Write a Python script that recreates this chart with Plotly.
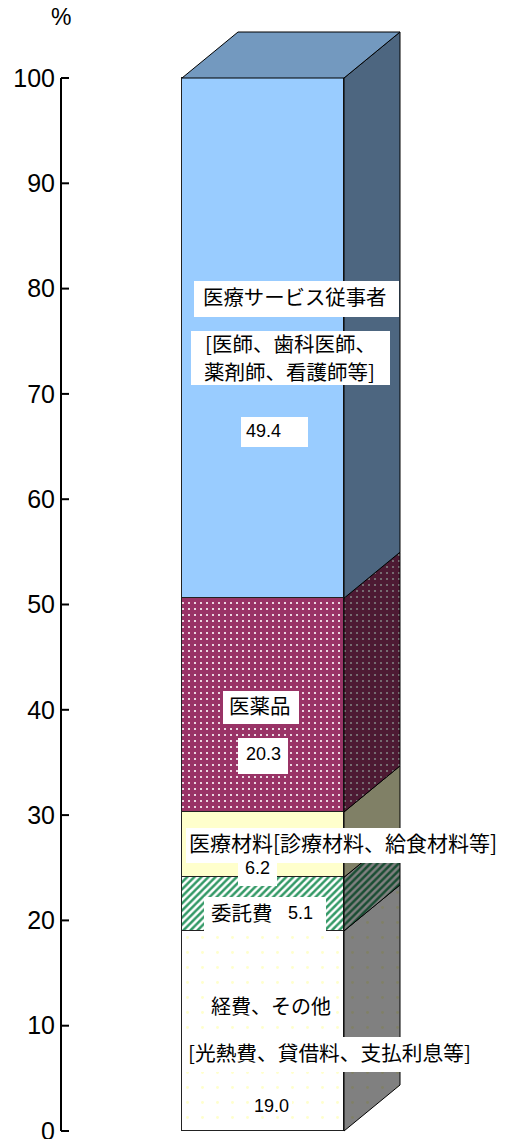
import plotly.graph_objects as go

# --- data (bottom to top) ---
names = ["経費、その他", "委託費", "医療材料", "医薬品", "医療サービス従事者"]
values = [19.0, 5.1, 6.2, 20.3, 49.4]
tick_values = [0, 10, 20, 30, 40, 50, 60, 70, 80, 90, 100]
tick_labels = ["0", "10", "20", "30", "40", "50", "60", "70", "80", "90", "100"]

# --- styles ---
front_colors = ["#FFFFFF", "#339966", "#FFFFCC", "#993366", "#99CCFF"]
side_colors = ["#808080", "#1A4D33", "#808066", "#4D1A33", "#4D6680"]
dot_colors = ["#FFFFCC", "#FFFFFF", None, "#FFFFFF", None]
dot_side = ["#808066", "#808080", None, "#808080", None]
shapes = [".", "/", "", ".", ""]
sizes = [15, 5, 8, 6, 8]
solid = [0.03, 0.5, 0.3, 0.1, 0.3]
top_color = "#7399BF"

W, H = 505, 1139
Y0, PX_PER_UNIT = 1131, 10.53
AXIS_X, TICK_LEN = 61, 8
BAR_L, BAR_R = 182, 344
DEPTH_X, DEPTH_Y = 56, 46 / PX_PER_UNIT


def pat(shape, bg, fg, size, sol):
    if not shape:
        return dict(shape="")
    return dict(shape=shape, bgcolor=bg, fgcolor=fg, fillmode="replace", size=size, solidity=sol)


fig = go.Figure()
fig.add_trace(go.Scatter(x=[AXIS_X], y=[0], yaxis="y", mode="markers", marker=dict(opacity=0),
                         hoverinfo="skip", showlegend=False))

# tick marks, pointing right of the axis
tx, ty = [], []
for t in tick_values:
    tx += [AXIS_X, AXIS_X + TICK_LEN, None]
    ty += [t, t, None]
fig.add_trace(go.Scatter(x=tx, y=ty, yaxis="y2", mode="lines", line=dict(color="#000000", width=2),
                         hoverinfo="skip", showlegend=False))

base = 0
for i, (n, v) in enumerate(zip(names, values)):
    xs = [BAR_R, BAR_R + DEPTH_X, BAR_R + DEPTH_X, BAR_R, BAR_R]
    ys = [base, base + DEPTH_Y, base + v + DEPTH_Y, base + v, base]
    kw = {}
    if shapes[i]:
        kw["fillpattern"] = pat(shapes[i], side_colors[i], dot_side[i], sizes[i], solid[i])
    fig.add_trace(go.Scatter(x=xs, y=ys, yaxis="y2", mode="lines", fill="toself",
                             fillcolor=side_colors[i], line=dict(color="#000000", width=1),
                             hoverinfo="skip", showlegend=False, **kw))
    base += v

for i, (n, v) in enumerate(zip(names, values)):
    fig.add_trace(go.Bar(x=[(BAR_L + BAR_R) / 2], y=[v], width=[BAR_R - BAR_L], yaxis="y2", name=n,
                         marker=dict(color=front_colors[i], line=dict(color="#222222", width=1),
                                     pattern=pat(shapes[i], front_colors[i], dot_colors[i], sizes[i], solid[i])),
                         hoverinfo="skip", showlegend=False))

total = sum(values)
fig.add_trace(go.Scatter(
    x=[BAR_L, BAR_L + DEPTH_X, BAR_R + DEPTH_X, BAR_R, BAR_L],
    y=[total, total + DEPTH_Y, total + DEPTH_Y, total, total],
    yaxis="y2", mode="lines", fill="toself", fillcolor=top_color,
    line=dict(color="#000000", width=1), hoverinfo="skip", showlegend=False))

CJK = "'Noto Sans CJK JP'"
NUM = "'Liberation Sans'"
# white plates behind the labels: left, top, right, bottom
plates = [
    (194, 281, 399, 317), (191, 331, 390, 385), (241, 417, 308, 447),
    (223, 691, 299, 724), (238, 738, 288, 774), (186, 828, 500, 863),
    (238, 863, 277, 886), (204, 897, 326, 931), (205, 990, 335, 1023),
    (185, 1037, 476, 1072), (250, 1097, 292, 1115),
]
# labels: text, centre x, centre y, font, size
labels = [
    ("医療サービス従事者", 294.5, 296, CJK, 20.4),
    ("[医師、歯科医師、", 290, 343, CJK, 20.5),
    ("薬剤師、看護師等]", 289, 371, CJK, 20.5),
    (str(values[4]), 263.5, 431, NUM, 18),
    ("医薬品", 260, 705, CJK, 20.5),
    (str(values[3]), 263, 754, NUM, 18),
    ("医療材料[診療材料、給食材料等]", 343, 842, CJK, 21),
    (str(values[2]), 257, 868, NUM, 18),
    ("委託費", 242, 912, CJK, 20.5),
    (str(values[1]), 300, 912.5, NUM, 18),
    ("経費、その他", 270.5, 1005, CJK, 20),
    ("[光熱費、貸借料、支払利息等]", 329, 1052, CJK, 20.7),
    (str(values[0]), 271, 1105.5, NUM, 18),
    ("%", 61, 17, NUM, 23),
]
rects = [dict(type="rect", xref="paper", yref="paper", x0=l / W, x1=r / W, y0=1 - b / H, y1=1 - t / H,
              fillcolor="#FFFFFF", line=dict(width=0), layer="above") for l, t, r, b in plates]
anns = [dict(text=t, xref="paper", yref="paper", x=x / W, y=1 - y / H, xanchor="center", yanchor="middle",
             showarrow=False, borderpad=0, font=dict(family=f, size=s, color="#000000"))
        for t, x, y, f, s in labels]

fig.update_layout(
    width=W, height=H, autosize=False, margin=dict(l=0, r=0, t=0, b=0, autoexpand=False),
    paper_bgcolor="#FFFFFF", plot_bgcolor="rgba(0,0,0,0)", barmode="stack", bargap=0,
    showlegend=False, annotations=anns, shapes=rects,
    xaxis=dict(range=[0, W], visible=False, fixedrange=True, domain=[0, 1], automargin=False),
    yaxis=dict(domain=[(H - Y0) / H, (H - (Y0 - 100 * PX_PER_UNIT)) / H], range=[0, 100], automargin=False,
               anchor="free", position=AXIS_X / W, side="left", showgrid=False, zeroline=False,
               showline=True, linecolor="#000000", linewidth=2, ticks="", ticklabeloverflow="allow",
               tickvals=tick_values, ticktext=tick_labels,
               tickfont=dict(family=NUM, size=25, color="#000000"), fixedrange=True),
    yaxis2=dict(domain=[0, 1], range=[(Y0 - H) / PX_PER_UNIT, Y0 / PX_PER_UNIT], visible=False,
                anchor="x", fixedrange=True, automargin=False),
)
fig.write_html("out.html", config=dict(displayModeBar=False),
               post_script="document.body.style.margin='0';")
